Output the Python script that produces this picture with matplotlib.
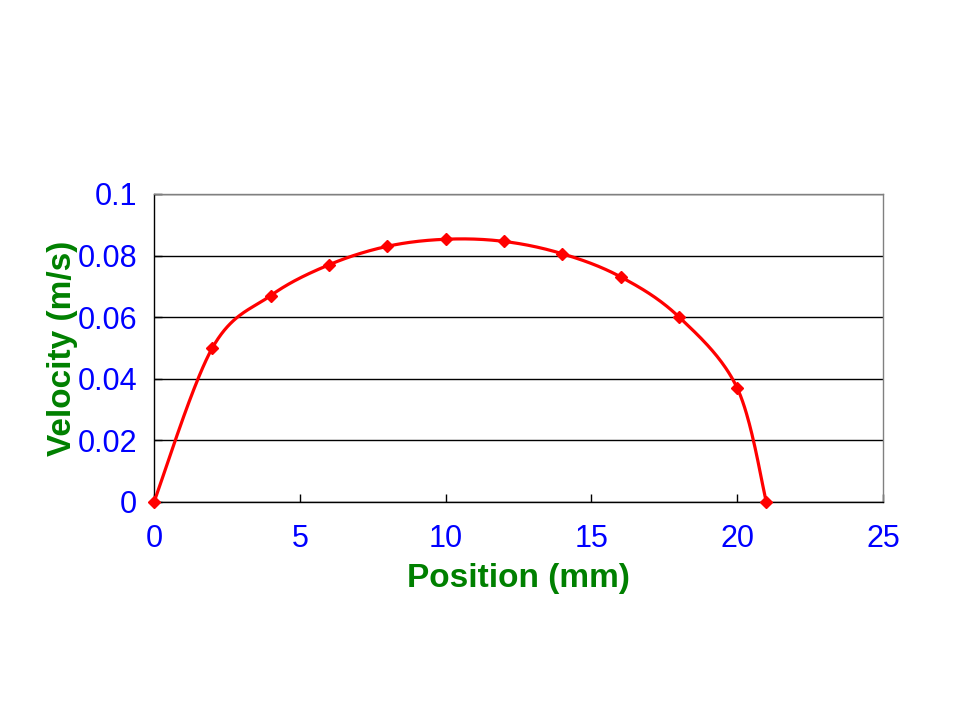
import numpy as np
import matplotlib
matplotlib.use("Agg")
import matplotlib.pyplot as plt

position_mm = [0, 2, 4, 6, 8, 10, 12, 14, 16, 18, 20, 21]
velocity_ms = [0, 0.050, 0.067, 0.077, 0.083, 0.0853, 0.0846, 0.0806, 0.0731, 0.0601, 0.0370, 0]
x_ticks = [0, 5, 10, 15, 20, 25]
y_ticks = [0, 0.02, 0.04, 0.06, 0.08, 0.1]
y_ticklabels = ["0", "0.02", "0.04", "0.06", "0.08", "0.1"]

plt.rcParams['font.family'] = ['Liberation Sans', 'DejaVu Sans']

fig = plt.figure(figsize=(9.6, 7.2), dpi=100)
ax = fig.add_axes([0.1604, 0.3028, 0.7594, 0.4278])


def smooth_curve(xs, ys, n=40):
    # Catmull-Rom style cubic Bezier smoothing (as in spreadsheet "smoothed line")
    P = np.column_stack([xs, ys]).astype(float)
    out = []
    m = len(P)
    for i in range(m - 1):
        p0 = P[i - 1] if i > 0 else P[i]
        p1 = P[i]
        p2 = P[i + 1]
        p3 = P[i + 2] if i + 2 < m else P[i + 1]
        c1 = p1 + (p2 - p0) / 6.0
        c2 = p2 - (p3 - p1) / 6.0
        t = np.linspace(0, 1, n)[:, None]
        seg = ((1 - t) ** 3) * p1 + 3 * ((1 - t) ** 2) * t * c1 + 3 * (1 - t) * t ** 2 * c2 + t ** 3 * p2
        out.append(seg if i == 0 else seg[1:])
    out = np.vstack(out)
    return out[:, 0], out[:, 1]


sx, sy = smooth_curve(position_mm, velocity_ms)
ax.plot(sx, sy, color='#FF0000', lw=2.3, zorder=3, clip_on=False)
ax.plot(position_mm, velocity_ms, linestyle='none', marker='D', markersize=6.5,
        color='#FF0000', zorder=4, clip_on=False)

ax.set_xlim(0, 25)
ax.set_ylim(0, 0.1)
ax.set_xticks(x_ticks)
ax.set_xticklabels([str(v) for v in x_ticks])
ax.set_yticks(y_ticks)
ax.set_yticklabels(y_ticklabels)
ax.yaxis.grid(True, color='black', lw=1)
ax.set_axisbelow(True)

ax.tick_params(axis='both', direction='in', length=6, width=1, colors='black',
               labelcolor='#0000FF', labelsize=22)
ax.tick_params(axis='x', pad=16)
ax.tick_params(axis='y', pad=12)

for s in ['top', 'right']:
    ax.spines[s].set_color('#808080')
for s in ['left', 'bottom']:
    ax.spines[s].set_color('black')
for s in ax.spines.values():
    s.set_linewidth(1)

ax.set_xlabel('Position (mm)', color='#008000', fontsize=24, fontweight='bold', labelpad=6)
ax.set_ylabel('Velocity (m/s)', color='#008000', fontsize=24, fontweight='bold', labelpad=0)

fig.savefig('out.png', dpi=100, facecolor='white')
